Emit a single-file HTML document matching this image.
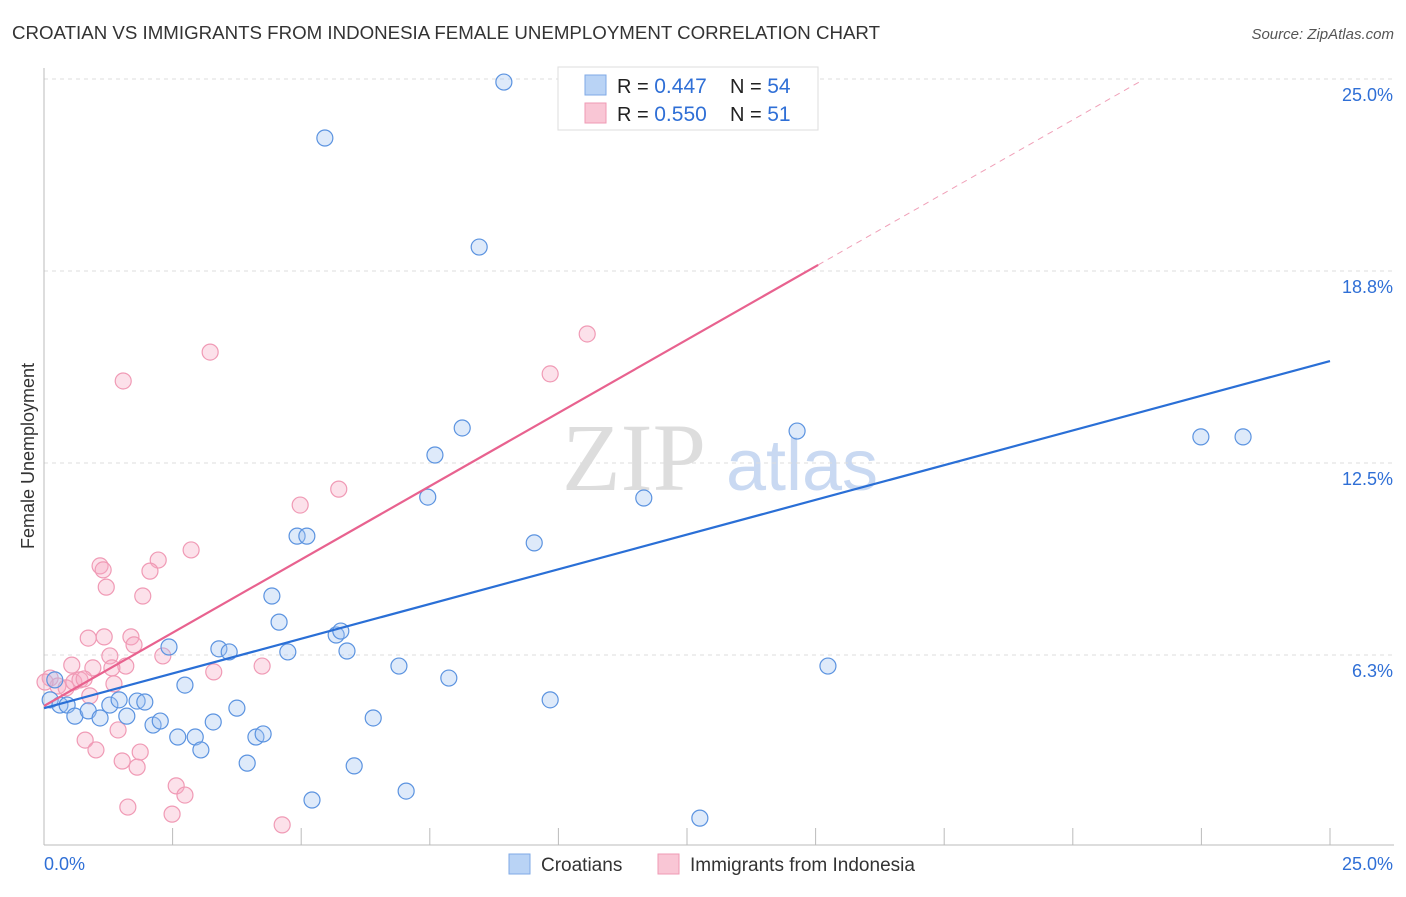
<!DOCTYPE html>
<html><head><meta charset="utf-8"><style>
body{margin:0;background:#fff;font-family:"Liberation Sans",sans-serif;}
</style></head><body>
<svg id="c" width="1406" height="892" xmlns="http://www.w3.org/2000/svg">
<text x="12" y="39" font-size="18" fill="#333" textLength="868" lengthAdjust="spacingAndGlyphs">CROATIAN VS IMMIGRANTS FROM INDONESIA FEMALE UNEMPLOYMENT CORRELATION CHART</text>
<text x="1394" y="39" font-size="15" fill="#555" font-style="italic" text-anchor="end">Source: ZipAtlas.com</text>
<text x="634" y="490" font-size="96" fill="#ddd" font-family="Liberation Serif,serif" text-anchor="middle">ZIP</text>
<text x="802" y="490" font-size="72" fill="#c9d9f2" text-anchor="middle">atlas</text>
<text transform="translate(34,456) rotate(-90)" font-size="18" fill="#333" text-anchor="middle">Female Unemployment</text>
<g id="grid"></g><g id="pts"></g><g id="lines"></g>
<g>
<rect x="558" y="67" width="260" height="63" fill="#fff" stroke="#ddd"/>
<rect x="585" y="75" width="21" height="20" fill="#b9d3f5" stroke="#7fa9e6"/>
<rect x="585" y="103" width="21" height="20" fill="#f9c6d5" stroke="#ef9ab4"/>
<text x="617" y="93" font-size="20" fill="#222">R = <tspan fill="#2f6fd6" font-size="21">0.447</tspan></text>
<text x="730" y="93" font-size="20" fill="#222">N = <tspan fill="#2f6fd6" font-size="21">54</tspan></text>
<text x="617" y="121" font-size="20" fill="#222">R = <tspan fill="#2f6fd6" font-size="21">0.550</tspan></text>
<text x="730" y="121" font-size="20" fill="#222">N = <tspan fill="#2f6fd6" font-size="21"> 51</tspan></text>
</g>
<g>
<rect x="509" y="854" width="21" height="20" fill="#b9d3f5" stroke="#7fa9e6"/>
<text x="541" y="871" font-size="19" fill="#333">Croatians</text>
<rect x="658" y="854" width="21" height="20" fill="#f9c6d5" stroke="#ef9ab4"/>
<text x="690" y="871" font-size="19" fill="#333">Immigrants from Indonesia</text>
</g>
</svg>
<script>
const yTicks=[25,18.75,12.5,6.25];
const yTickLabels=["25.0%","18.8%","12.5%","6.3%"];
const blueX=[8.94,5.46,8.46,8.13,7.60,7.46,4.92,5.11,9.53,11.66,14.64,22.49,23.31,4.43,4.57,5.68,5.77,5.89,4.74,2.43,3.40,3.60,2.74,6.90,7.87,9.84,15.24,0.21,0.12,0.31,0.45,0.60,0.86,1.09,1.28,1.46,1.61,1.81,1.96,2.12,2.26,2.60,2.94,3.05,3.29,3.75,3.95,4.12,4.26,5.21,6.03,6.40,7.04,12.75];
const blueY=[24.90,23.08,19.53,13.64,12.76,11.39,10.12,10.12,9.90,11.36,13.54,13.35,13.35,8.17,7.32,6.90,7.03,6.38,6.35,6.51,6.45,6.35,5.27,5.89,5.50,4.79,5.89,5.44,4.79,4.62,4.62,4.26,4.43,4.20,4.62,4.79,4.26,4.75,4.72,3.97,4.10,3.58,3.58,3.16,4.07,4.52,2.73,3.58,3.68,1.53,2.64,4.20,1.82,0.94];
const pinkX=[3.23,1.54,10.56,9.84,5.73,4.98,2.86,2.22,2.06,1.09,1.15,1.21,1.92,0.86,1.17,1.69,1.75,1.28,2.31,0.54,0.95,1.59,1.32,3.30,4.24,0.12,0.27,0.43,0.58,0.70,0.78,0.89,1.36,1.44,0.80,1.01,1.87,1.52,1.81,2.57,2.74,1.63,2.49,4.63,0.02];
const pinkY=[16.11,15.17,16.70,15.40,11.65,11.13,9.67,9.34,8.98,9.15,9.02,8.46,8.17,6.80,6.84,6.84,6.58,6.22,6.22,5.92,5.83,5.89,5.83,5.70,5.89,5.50,5.24,5.18,5.37,5.44,5.47,4.92,5.31,3.81,3.48,3.16,3.09,2.80,2.60,1.99,1.69,1.30,1.07,0.72,5.37];
const blueTrend=[4.52,15.82];
const pinkTrend=[4.59,0.954];
const NS="http://www.w3.org/2000/svg";
const X=v=>44+v*51.44, Y=v=>847-v*30.72;
function mk(t,a,p){const e=document.createElementNS(NS,t);for(const k in a)e.setAttribute(k,a[k]);p.appendChild(e);return e;}
const g=document.getElementById('grid');
yTicks.forEach((t,i)=>{
 const l=mk('line',{x1:44,x2:1394,y1:Y(t),y2:Y(t),stroke:'#ddd','stroke-dasharray':'4,4'},g);
 
 
 const tx=mk('text',{x:1393,y:Y(t)+22,'font-size':18,fill:'#2f6fd6','text-anchor':'end'},g);tx.textContent=yTickLabels[i];
 
 
});
mk('line',{x1:44,x2:44,y1:68,y2:845,stroke:'#bbb'},g);
mk('line',{x1:44,x2:1394,y1:845,y2:845,stroke:'#bbb'},g);
for(let i=0;i<=10;i++){mk('line',{x1:X(i*2.5),x2:X(i*2.5),y1:828,y2:845,stroke:'#bbb'},g);}
let t1=mk('text',{x:44,y:870,'font-size':18,fill:'#2f6fd6'},g);t1.textContent='0.0%';


let t2=mk('text',{x:1393,y:870,'font-size':18,fill:'#2f6fd6','text-anchor':'end'},g);t2.textContent='25.0%';


const p=document.getElementById('pts');
pinkX.forEach((x,i)=>{const c=mk('circle',{cx:X(x),cy:Y(pinkY[i]),r:8,fill:'rgba(246,170,195,0.35)',stroke:'#f09ab5','stroke-width':1.2},p);
 
 });
blueX.forEach((x,i)=>{const c=mk('circle',{cx:X(x),cy:Y(blueY[i]),r:8,fill:'rgba(160,195,240,0.35)',stroke:'#5b93e0','stroke-width':1.2},p);
 
 });
const L=document.getElementById('lines');
let b=mk('line',{x1:X(0),y1:Y(blueTrend[0]),x2:X(25),y2:Y(blueTrend[1]),stroke:'#2a6fd6','stroke-width':2.2},L);


const pf=x=>pinkTrend[0]+pinkTrend[1]*x;
let ps=mk('line',{x1:X(0),y1:Y(pf(0)),x2:X(15.05),y2:Y(pf(15.05)),stroke:'#e8628f','stroke-width':2.2},L);


let pd=mk('line',{x1:X(15.05),y1:Y(pf(15.05)),x2:X(21.3),y2:Y(pf(21.3)),stroke:'#f0a0b8','stroke-width':1,'stroke-dasharray':'6,5'},L);


</script>
</body></html>
